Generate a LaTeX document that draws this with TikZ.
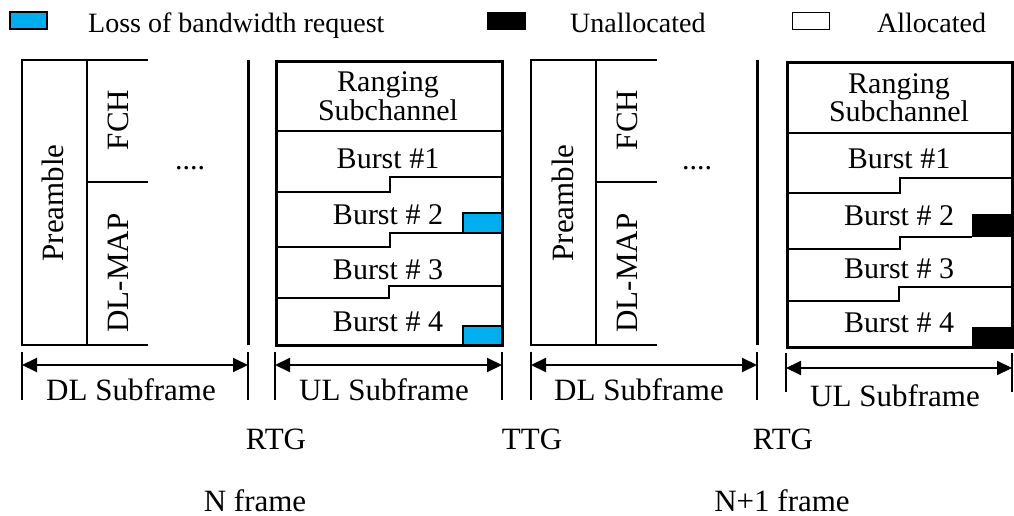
\documentclass[tikz,border=0pt]{standalone}
\usepackage{fontspec}
\setmainfont{Liberation Serif}
\usetikzlibrary{arrows.meta}
\definecolor{lossblue}{RGB}{0,174,239}
\begin{document}
\begin{tikzpicture}[x=1pt,y=-1pt,
  txt/.style={font=\fontsize{30}{30}\selectfont, inner sep=0pt, anchor=base},
  rtxt/.style={font=\fontsize{31}{31}\selectfont, inner sep=0pt, rotate=90},
  lbl/.style={font=\fontsize{31}{31}\selectfont, inner sep=0pt, anchor=base},
  legtxt/.style={font=\fontsize{28}{28}\selectfont, inner sep=0pt, anchor=base west},
  legbox/.style={draw, line width=1.5pt, minimum width=37pt, minimum height=17pt, inner sep=0pt},
  dlline/.style={line width=2pt},
  sepline/.style={line width=3pt},
  ulbox/.style={line width=3pt},
  stepline/.style={line width=1.5pt},
  markbox/.style={line width=2pt},
  dimline/.style={line width=1.2pt},
  dimarrow/.style={line width=2pt, {Triangle[length=15pt,width=14pt]}-{Triangle[length=15pt,width=14pt]}},
]
\useasboundingbox (0,0) rectangle (1014,516);

% legend
\node[legbox, fill=lossblue] (lg1) at (28.5,20.5) {};
\node[legtxt] (lt1) at (88,33) {Loss of bandwidth request};
\node[legbox, fill=black] (lg2) at (506.5,21) {};
\node[legtxt] (lt2) at (570,33) {Unallocated};
\node[legbox, fill=white] (lg3) at (811,21) {};
\node[legtxt] (lt3) at (877,33) {Allocated};

% ---------- DL subframe 1
\draw[dlline] (148,60) -- (22,60) -- (22,345) -- (148,345);
\draw[dlline] (87,60) -- (87,345);
\draw[dlline] (87,182) -- (148,182);
\node[rtxt] (pre1) at (53,203) {Preamble};
\node[rtxt] (fch1) at (118,120) {FCH};
\node[rtxt] (map1) at (118,273) {DL-MAP};
\node[txt] (dots1) at (190,169) {....};
\draw[sepline] (248,60) -- (248,345);

% ---------- UL subframe 1
\draw[markbox, fill=lossblue] (463,213) rectangle (502,233);
\draw[markbox, fill=lossblue] (463,326) rectangle (502,345);
\draw[ulbox] (276,62) rectangle (502,345);
\draw[dlline] (276,131) -- (502,131);
\draw[stepline] (276,192) -- (390,192) -- (390,177) -- (502,177);
\draw[stepline] (276,247) -- (390,247) -- (390,233) -- (463,233);
\draw[stepline] (276,298) -- (389,298) -- (389,286) -- (502,286);
\node[txt] (rg1) at (388,92) {Ranging};
\node[txt] (sc1) at (388,121) {Subchannel};
\node[txt] (b11) at (388,168) {Burst \#1};
\node[txt] (b12) at (388,224) {Burst \# 2};
\node[txt] (b13) at (388,279) {Burst \# 3};
\node[txt] (b14) at (388,331) {Burst \# 4};

% ---------- DL subframe 2
\draw[dlline] (657,60) -- (531,60) -- (531,345) -- (657,345);
\draw[dlline] (596,60) -- (596,345);
\draw[dlline] (596,182) -- (657,182);
\node[rtxt] (pre2) at (563,203) {Preamble};
\node[rtxt] (fch2) at (627,120) {FCH};
\node[rtxt] (map2) at (627,273) {DL-MAP};
\node[txt] (dots2) at (697,169) {....};
\draw[sepline] (757,60) -- (757,345);

% ---------- UL subframe 2
\fill (972,214) rectangle (1012,237);
\fill (972,327) rectangle (1012,347);
\draw[ulbox] (787,63) rectangle (1012,347);
\draw[dlline] (787,133) -- (1012,133);
\draw[stepline] (787,193) -- (900,193) -- (900,178) -- (1012,178);
\draw[stepline] (787,249) -- (900,249) -- (900,237) -- (972,237);
\draw[stepline] (787,301) -- (899,301) -- (899,287) -- (1012,287);
\node[txt] (rg2) at (899,94) {Ranging};
\node[txt] (sc2) at (899,122) {Subchannel};
\node[txt] (b21) at (899,168) {Burst \#1};
\node[txt] (b22) at (899,225) {Burst \# 2};
\node[txt] (b23) at (899,278) {Burst \# 3};
\node[txt] (b24) at (899,332) {Burst \# 4};

% ---------- dimension lines
\draw[dimline] (22,352) -- (22,400);
\draw[dimline] (248,352) -- (248,400);
\draw[dimline] (275,352) -- (275,400);
\draw[dimline] (502,352) -- (502,400);
\draw[dimline] (531,352) -- (531,400);
\draw[dimline] (757,352) -- (757,400);
\draw[dimline] (786,353) -- (786,392);
\draw[dimline] (1012,353) -- (1012,392);
\coordinate (a1l) at (22,365);  \coordinate (a1r) at (248,365);
\coordinate (a2l) at (275,365); \coordinate (a2r) at (502,365);
\coordinate (a3l) at (531,365); \coordinate (a3r) at (757,365);
\coordinate (a4l) at (786,368); \coordinate (a4r) at (1012,368);
\draw[dimarrow] (a1l) -- (a1r);
\draw[dimarrow] (a2l) -- (a2r);
\draw[dimarrow] (a3l) -- (a3r);
\draw[dimarrow] (a4l) -- (a4r);
\node[lbl] (dl1) at (131,400) {DL Subframe};
\node[lbl] (ul1) at (384,400) {UL Subframe};
\node[lbl] (dl2) at (639,400) {DL Subframe};
\node[lbl] (ul2) at (895,406) {UL Subframe};

% ---------- gaps and frames
\node[lbl] (rtg1) at (276,449) {RTG};
\node[lbl] (ttg) at (532,449) {TTG};
\node[lbl] (rtg2) at (783,449) {RTG};
\node[lbl] (nf) at (255,511) {N frame};
\node[lbl] (n1f) at (782,511) {N+1 frame};
\end{tikzpicture}
\end{document}
